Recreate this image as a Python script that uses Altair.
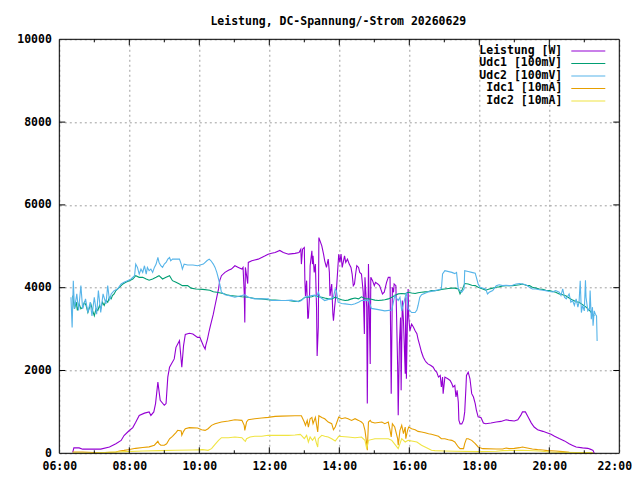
import altair as alt
import pandas as pd

TITLE = "Leistung, DC-Spannung/-Strom 20260629"
SERIES = ["Leistung [W]", "Udc1 [100mV]", "Udc2 [100mV]", "Idc1 [10mA]", "Idc2 [10mA]"]
COLORS = ["#9400d3", "#009e73", "#56b4e9", "#e69f00", "#f0e442"]

LEISTUNG = [
    ("06:23", 20), ("06:25", 130), ("06:34", 130), ("06:40", 100), ("07:11", 100), ("07:26", 150),
    ("07:37", 230), ("07:46", 310), ("07:51", 430), ("08:00", 550), ("08:06", 620), ("08:11", 750),
    ("08:17", 915), ("08:26", 970), ("08:34", 1000), ("08:37", 915), ("08:42", 1000), ("08:45", 1200),
    ("08:49", 1720), ("08:53", 1280), ("09:00", 1160), ("09:03", 1200), ("09:06", 1840), ("09:09", 2080),
    ("09:17", 2280), ("09:20", 2560), ("09:23", 2640), ("09:26", 2720), ("09:30", 2080), ("09:33", 2600),
    ("09:36", 2870), ("09:43", 2900), ("09:49", 2880), ("09:57", 2800), ("10:01", 2800), ("10:07", 2600),
    ("10:10", 2520), ("10:11", 2600), ("10:14", 2760), ("10:17", 2960), ("10:19", 3080), ("10:24", 3360),
    ("10:27", 3570), ("10:30", 3770), ("10:33", 3970), ("10:35", 4170), ("10:38", 4290), ("10:44", 4370),
    ("10:50", 4420), ("10:55", 4450), ("11:01", 4530), ("11:07", 4490), ("11:13", 4450), ("11:15", 4490),
    ("11:17", 3890), ("11:18", 3160), ("11:19", 4490), ("11:23", 4100), ("11:24", 4610), ("11:30", 4650),
    ("11:35", 4670), ("11:41", 4690), ("11:47", 4730), ("11:53", 4770), ("11:58", 4810), ("12:04", 4830),
    ("12:10", 4850), ("12:18", 4900), ("12:24", 4850), ("12:33", 4810), ("12:44", 4830), ("12:51", 4850),
    ("12:54", 4930), ("12:55", 4570), ("12:57", 4930), ("13:00", 4970), ("13:01", 4170), ("13:02", 3800),
    ("13:04", 4170), ("13:06", 3250), ("13:07", 3280), ("13:09", 3800), ("13:10", 4530), ("13:13", 4890),
    ("13:14", 4570), ("13:15", 4770), ("13:17", 4370), ("13:19", 4570), ("13:21", 3520), ("13:22", 2350),
    ("13:24", 3050), ("13:25", 5210), ("13:27", 5130), ("13:30", 5010), ("13:33", 4810), ("13:35", 4650),
    ("13:38", 4490), ("13:41", 4690), ("13:43", 4370), ("13:44", 3800), ("13:47", 4090), ("13:49", 3360),
    ("13:50", 3200), ("13:52", 3530), ("13:55", 3930), ("13:59", 4810), ("14:01", 4610), ("14:03", 4810),
    ("14:05", 4490), ("14:09", 4770), ("14:11", 4610), ("14:14", 4690), ("14:17", 4570), ("14:20", 4490),
    ("14:22", 4330), ("14:24", 4050), ("14:26", 4090), ("14:28", 4330), ("14:30", 4530), ("14:33", 4490),
    ("14:35", 4370), ("14:38", 4330), ("14:41", 3890), ("14:43", 2880), ("14:44", 4250), ("14:47", 3520),
    ("14:48", 1200), ("14:50", 4570), ("14:51", 3770), ("14:53", 2160), ("14:54", 4250), ("14:57", 4170),
    ("15:00", 4050), ("15:02", 4130), ("15:06", 4090), ("15:09", 4050), ("15:11", 3970), ("15:14", 3850),
    ("15:17", 3890), ("15:19", 4010), ("15:21", 4130), ("15:24", 4250), ("15:27", 4250), ("15:29", 1440),
    ("15:31", 4010), ("15:33", 3890), ("15:34", 4090), ("15:37", 4050), ("15:38", 3440), ("15:40", 2120),
    ("15:41", 920), ("15:43", 2640), ("15:45", 3280), ("15:46", 1520), ("15:48", 3690), ("15:50", 3200),
    ("15:53", 1920), ("15:54", 3770), ("15:55", 1800), ("15:57", 3360), ("15:58", 3970), ("15:59", 3290),
    ("16:01", 2960), ("16:04", 3120), ("16:07", 3050), ("16:10", 2960), ("16:13", 2890), ("16:15", 2760),
    ("16:18", 2600), ("16:21", 2440), ("16:24", 2320), ("16:27", 2240), ("16:29", 2200), ("16:32", 2160),
    ("16:37", 2120), ("16:41", 2080), ("16:44", 2000), ("16:47", 1960), ("16:50", 1840), ("16:53", 1880),
    ("16:55", 1600), ("16:57", 1840), ("16:58", 1440), ("17:01", 1840), ("17:06", 1800), ("17:10", 1760),
    ("17:13", 1680), ("17:15", 1600), ("17:18", 1640), ("17:20", 1360), ("17:22", 1520), ("17:24", 1240),
    ("17:25", 800), ("17:27", 710), ("17:30", 710), ("17:33", 800), ("17:35", 1000), ("17:37", 1560),
    ("17:38", 1880), ("17:41", 1960), ("17:44", 1800), ("17:47", 1440), ("17:50", 1360), ("17:53", 1200),
    ("17:55", 1040), ("17:58", 880), ("18:03", 860), ("18:07", 730), ("18:11", 715), ("18:20", 730),
    ("18:29", 755), ("18:37", 770), ("18:46", 810), ("18:51", 795), ("19:00", 780), ("19:06", 810),
    ("19:11", 915), ("19:14", 1000), ("19:19", 1000), ("19:23", 895), ("19:29", 735), ("19:34", 635),
    ("19:40", 570), ("19:49", 530), ("19:57", 490), ("20:03", 460), ("20:09", 410), ("20:17", 355),
    ("20:26", 300), ("20:34", 230), ("20:40", 190), ("20:46", 150), ("20:57", 130), ("21:06", 120),
    ("21:11", 95), ("21:15", 70), ("21:17", 0),
]

UDC1 = [
    ("06:23", 3810), ("06:26", 3490), ("06:29", 3650), ("06:31", 3450), ("06:34", 3610), ("06:37", 3490),
    ("06:40", 3530), ("06:43", 3650), ("06:46", 3570), ("06:49", 3400), ("06:51", 3490), ("06:54", 3610),
    ("06:57", 3450), ("07:00", 3320), ("07:03", 3490), ("07:06", 3450), ("07:09", 3570), ("07:11", 3490),
    ("07:14", 3650), ("07:17", 3570), ("07:20", 3690), ("07:23", 3650), ("07:26", 3770), ("07:29", 3730),
    ("07:31", 3810), ("07:34", 3850), ("07:37", 3930), ("07:43", 4010), ("07:49", 4090), ("07:54", 4130),
    ("08:00", 4170), ("08:06", 4210), ("08:11", 4290), ("08:17", 4250), ("08:23", 4250), ("08:29", 4210),
    ("08:34", 4180), ("08:40", 4210), ("08:46", 4250), ("08:51", 4290), ("08:57", 4210), ("09:03", 4250),
    ("09:09", 4290), ("09:14", 4170), ("09:20", 4130), ("09:26", 4090), ("09:31", 4050), ("09:40", 4050),
    ("09:46", 3990), ("09:54", 3970), ("10:06", 3960), ("10:18", 3940), ("10:24", 3900), ("10:30", 3890),
    ("10:41", 3860), ("10:47", 3830), ("10:53", 3810), ("11:01", 3800), ("11:13", 3780), ("11:24", 3770),
    ("11:35", 3740), ("11:47", 3730), ("11:58", 3710), ("12:10", 3700), ("12:21", 3690), ("12:33", 3690),
    ("12:44", 3670), ("12:50", 3670), ("12:55", 3700), ("13:01", 3770), ("13:07", 3770), ("13:13", 3780),
    ("13:18", 3810), ("13:24", 3780), ("13:30", 3770), ("13:35", 3750), ("13:41", 3730), ("13:47", 3730),
    ("13:53", 3770), ("13:58", 3740), ("14:04", 3710), ("14:10", 3690), ("14:15", 3700), ("14:21", 3730),
    ("14:27", 3750), ("14:33", 3730), ("14:38", 3780), ("14:44", 3740), ("14:50", 3730), ("14:55", 3720),
    ("15:01", 3700), ("15:07", 3690), ("15:13", 3700), ("15:18", 3710), ("15:24", 3730), ("15:30", 3770),
    ("15:35", 3810), ("15:41", 3850), ("15:47", 3860), ("15:53", 3850), ("15:58", 3890), ("16:04", 3870),
    ("16:10", 3860), ("16:15", 3880), ("16:21", 3890), ("16:27", 3900), ("16:33", 3910), ("16:38", 3930),
    ("16:44", 3930), ("16:50", 3940), ("16:55", 3960), ("17:01", 3970), ("17:07", 3980), ("17:13", 3990),
    ("17:18", 3990), ("17:24", 3970), ("17:27", 3850), ("17:30", 3930), ("17:35", 4100), ("17:41", 4090),
    ("17:47", 4060), ("17:53", 4050), ("17:58", 4010), ("18:06", 3970), ("18:11", 3940), ("18:17", 3970),
    ("18:23", 3990), ("18:29", 4010), ("18:34", 4020), ("18:40", 4040), ("18:46", 4050), ("18:51", 4050),
    ("18:57", 4050), ("19:03", 4060), ("19:09", 4070), ("19:14", 4090), ("19:20", 4060), ("19:26", 4050),
    ("19:31", 4010), ("19:37", 3990), ("19:43", 3970), ("19:49", 3960), ("19:54", 3940), ("20:00", 3930),
    ("20:06", 3910), ("20:11", 3890), ("20:17", 3850), ("20:23", 3830), ("20:29", 3800), ("20:34", 3750),
    ("20:40", 3700), ("20:46", 3660), ("20:51", 3650), ("20:57", 3590), ("21:03", 3530), ("21:09", 3450),
    ("21:14", 3360), ("21:17", 3320),
]

UDC2 = [
    ("06:20", 3770), ("06:22", 3040), ("06:24", 4170), ("06:26", 3490), ("06:30", 3850), ("06:33", 3450),
    ("06:37", 4050), ("06:40", 3490), ("06:45", 3730), ("06:49", 3400), ("06:53", 3650), ("06:56", 3320),
    ("07:00", 3770), ("07:04", 3360), ("07:07", 3930), ("07:11", 3400), ("07:15", 3850), ("07:20", 3610),
    ("07:23", 4050), ("07:26", 3690), ("07:29", 3850), ("07:34", 3930), ("07:40", 3970), ("07:46", 4090),
    ("07:51", 4130), ("07:57", 4170), ("08:03", 4210), ("08:09", 4290), ("08:11", 4570), ("08:14", 4490),
    ("08:17", 4330), ("08:20", 4450), ("08:23", 4370), ("08:26", 4530), ("08:29", 4330), ("08:31", 4490),
    ("08:34", 4410), ("08:37", 4450), ("08:40", 4370), ("08:43", 4490), ("08:46", 4570), ("08:49", 4730),
    ("08:51", 4610), ("08:54", 4530), ("08:57", 4490), ("09:00", 4570), ("09:03", 4610), ("09:06", 4690),
    ("09:09", 4730), ("09:11", 4650), ("09:14", 4690), ("09:20", 4690), ("09:26", 4690), ("09:29", 4570),
    ("09:31", 4450), ("09:34", 4570), ("09:40", 4550), ("09:49", 4550), ("09:57", 4530), ("10:07", 4570),
    ("10:13", 4650), ("10:17", 4690), ("10:20", 4650), ("10:24", 4570), ("10:27", 4490), ("10:30", 4370),
    ("10:33", 4210), ("10:35", 4090), ("10:38", 3890), ("10:44", 3830), ("10:50", 3810), ("11:01", 3770),
    ("11:13", 3810), ("11:18", 3830), ("11:24", 3770), ("11:35", 3730), ("11:47", 3730), ("11:58", 3730),
    ("12:04", 3690), ("12:15", 3690), ("12:27", 3690), ("12:38", 3700), ("12:50", 3660), ("12:55", 3690),
    ("13:01", 3770), ("13:07", 3790), ("13:13", 3810), ("13:18", 3820), ("13:21", 3770), ("13:24", 3890),
    ("13:27", 3770), ("13:35", 3690), ("13:44", 3730), ("13:50", 3770), ("13:53", 3970), ("13:55", 3930),
    ("13:58", 3650), ("14:04", 3620), ("14:10", 3610), ("14:21", 3590), ("14:27", 3610), ("14:33", 3650),
    ("14:38", 3690), ("14:50", 3700), ("14:55", 3500), ("15:07", 3470), ("15:18", 3440), ("15:30", 3460),
    ("15:35", 3810), ("15:41", 3690), ("15:44", 3770), ("15:47", 3440), ("15:53", 3770), ("15:55", 3890),
    ("15:58", 3490), ("16:04", 3400), ("16:10", 3400), ("16:13", 3460), ("16:15", 3570), ("16:18", 3770),
    ("16:21", 3830), ("16:33", 3900), ("16:44", 3930), ("16:55", 3970), ("16:57", 4330), ("17:01", 4410),
    ("17:13", 4370), ("17:18", 4340), ("17:21", 4370), ("17:24", 3970), ("17:30", 3890), ("17:34", 3970),
    ("17:35", 4410), ("17:41", 4390), ("17:47", 4370), ("17:53", 4350), ("17:55", 4250), ("17:58", 4090),
    ("18:01", 4010), ("18:11", 3970), ("18:14", 3850), ("18:17", 3890), ("18:23", 3930), ("18:29", 4050),
    ("18:34", 4070), ("18:40", 4050), ("18:46", 4060), ("18:51", 4050), ("18:57", 4060), ("19:03", 4090),
    ("19:09", 4100), ("19:14", 4090), ("19:20", 4070), ("19:26", 4010), ("19:31", 3970), ("19:37", 3970),
    ("19:43", 3950), ("19:49", 3940), ("19:54", 3930), ("20:00", 3910), ("20:06", 3900), ("20:11", 3930),
    ("20:17", 3890), ("20:20", 3810), ("20:23", 3970), ("20:26", 3770), ("20:29", 3730), ("20:34", 3850),
    ("20:37", 3650), ("20:40", 3690), ("20:43", 3570), ("20:46", 3730), ("20:49", 3530), ("20:51", 3650),
    ("20:53", 4170), ("20:55", 3400), ("20:57", 3570), ("21:00", 3440), ("21:02", 4180), ("21:03", 3770),
    ("21:06", 3440), ("21:09", 3490), ("21:10", 3930), ("21:12", 3240), ("21:14", 3530), ("21:15", 3080),
    ("21:17", 3440), ("21:19", 3360), ("21:21", 3320), ("21:22", 2710),
]

IDC1 = [
    ("06:23", 30), ("06:40", 30), ("07:09", 15), ("07:37", 30), ("07:43", 55), ("07:51", 70),
    ("08:00", 90), ("08:11", 120), ("08:23", 140), ("08:34", 155), ("08:43", 195), ("08:49", 290),
    ("08:51", 230), ("08:54", 195), ("09:00", 195), ("09:04", 230), ("09:09", 350), ("09:14", 410),
    ("09:20", 500), ("09:23", 555), ("09:29", 540), ("09:30", 435), ("09:33", 530), ("09:36", 595),
    ("09:43", 620), ("09:57", 610), ("10:04", 570), ("10:10", 554), ("10:15", 594), ("10:21", 675),
    ("10:27", 715), ("10:38", 755), ("10:50", 780), ("11:01", 811), ("11:13", 795), ("11:17", 675),
    ("11:18", 554), ("11:21", 755), ("11:24", 811), ("11:35", 835), ("11:47", 851), ("11:58", 867),
    ("12:10", 891), ("12:21", 899), ("12:44", 907), ("12:55", 907), ("13:00", 755), ("13:02", 675),
    ("13:05", 795), ("13:07", 634), ("13:10", 835), ("13:13", 867), ("13:15", 715), ("13:19", 867),
    ("13:23", 514), ("13:25", 907), ("13:30", 867), ("13:35", 835), ("13:41", 755), ("13:47", 715),
    ("13:50", 570), ("13:53", 634), ("13:55", 715), ("13:59", 875), ("14:04", 835), ("14:10", 859),
    ("14:15", 835), ("14:21", 795), ("14:27", 835), ("14:33", 795), ("14:38", 755), ("14:41", 715),
    ("14:44", 554), ("14:47", 234), ("14:48", 72), ("14:50", 755), ("14:53", 795), ("14:55", 755),
    ("15:01", 731), ("15:13", 755), ("15:18", 715), ("15:24", 755), ("15:27", 554), ("15:29", 394),
    ("15:31", 715), ("15:35", 634), ("15:40", 353), ("15:41", 193), ("15:44", 554), ("15:47", 675),
    ("15:50", 474), ("15:53", 634), ("15:54", 353), ("15:57", 554), ("15:59", 634), ("16:04", 594),
    ("16:10", 570), ("16:15", 530), ("16:21", 514), ("16:27", 498), ("16:33", 474), ("16:38", 458),
    ("16:44", 434), ("16:50", 410), ("16:55", 353), ("17:01", 353), ("17:07", 329), ("17:13", 313),
    ("17:18", 273), ("17:24", 153), ("17:27", 112), ("17:33", 112), ("17:35", 234), ("17:38", 353),
    ("17:41", 353), ("17:47", 313), ("17:53", 234), ("17:58", 153), ("18:06", 112), ("18:29", 104),
    ("18:40", 104), ("18:46", 128), ("18:51", 112), ("19:00", 120), ("19:09", 136), ("19:14", 153),
    ("19:20", 136), ("19:31", 104), ("19:40", 88), ("19:49", 80), ("19:57", 64), ("20:11", 56),
    ("20:23", 40), ("20:34", 24), ("20:46", 16), ("21:15", 8),
]

IDC2 = [
    ("06:23", 8), ("06:57", 8), ("07:26", 24), ("07:54", 40), ("08:23", 56), ("08:51", 64),
    ("09:20", 72), ("09:49", 80), ("10:06", 88), ("10:15", 72), ("10:21", 112), ("10:27", 217),
    ("10:33", 313), ("10:38", 377), ("10:50", 377), ("11:01", 394), ("11:13", 377), ("11:17", 313),
    ("11:19", 289), ("11:21", 353), ("11:27", 394), ("11:35", 410), ("11:47", 410), ("11:58", 434),
    ("12:15", 434), ("12:33", 434), ("12:44", 442), ("12:53", 458), ("12:55", 434), ("13:00", 353),
    ("13:04", 434), ("13:07", 273), ("13:10", 394), ("13:14", 313), ("13:18", 394), ("13:21", 234),
    ("13:23", 153), ("13:24", 353), ("13:30", 434), ("13:35", 410), ("13:41", 394), ("13:47", 353),
    ("13:53", 297), ("13:59", 410), ("14:15", 394), ("14:27", 377), ("14:38", 394), ("14:44", 313),
    ("14:47", 112), ("14:50", 313), ("15:01", 353), ("15:24", 353), ("15:30", 313), ("15:41", 112),
    ("15:47", 353), ("15:53", 273), ("15:58", 313), ("16:04", 297), ("16:13", 273), ("16:21", 193),
    ("16:27", 153), ("16:33", 112), ("16:38", 72), ("16:44", 64), ("17:01", 56), ("17:18", 48),
    ("17:58", 40), ("18:29", 48), ("18:40", 64), ("19:14", 72), ("19:43", 56), ("20:00", 32),
    ("20:46", 16), ("21:14", 16),
]

X_MAJOR = [6, 8, 10, 12, 14, 16, 18, 20, 22]
X_MINOR = [7, 9, 11, 13, 15, 17, 19, 21]
Y_MAJOR = [0, 2000, 4000, 6000, 8000, 10000]

W, H = 560, 414
FONT = "DejaVu Sans Mono"
GRID = "#a0a0a0"


def to_frame(rows):
    df = pd.DataFrame(rows, columns=["t", "v"])
    df["h"] = df["t"].map(lambda s: int(s[:2]) + int(s[3:]) / 60)
    return df


x_scale = alt.Scale(domain=[6, 22], nice=False, zero=False)
y_scale = alt.Scale(domain=[0, 10000], nice=False)

x_axis = alt.Axis(
    values=X_MAJOR, labelExpr="(datum.value < 10 ? '0' : '') + datum.value + ':00'",
    grid=True, gridColor=GRID, gridDash=[2, 3], ticks=False, domain=False,
    labelFont=FONT, labelFontSize=11.5, labelFontWeight="bold", labelColor="black",
    labelPadding=7, labelFlush=False, labelOverlap=False, title=None,
    # last label nudged in so it is not clipped at the page edge
    labelOffset={"condition": {"test": "datum.value == 22", "value": -5}, "value": 0},
)
y_axis = alt.Axis(
    values=Y_MAJOR, format="d",
    grid=True, gridColor=GRID, gridDash=[2, 3], ticks=False, domain=False,
    labelFont=FONT, labelFontSize=11.5, labelFontWeight="bold", labelColor="black",
    labelPadding=8, title=None,
)


def xenc(field="h"):
    return alt.X(f"{field}:Q", scale=x_scale, axis=x_axis)


def yenc(field="v"):
    return alt.Y(f"{field}:Q", scale=y_scale, axis=y_axis)


layers = []
for rows, color in zip([LEISTUNG, UDC1, UDC2, IDC1, IDC2], COLORS):
    layers.append(
        alt.Chart(to_frame(rows))
        .mark_line(color=color, strokeWidth=1.1)
        .encode(x=xenc(), y=yenc())
    )

# inward ticks like gnuplot, on all four sides
xt = pd.DataFrame({"h": X_MAJOR[1:-1] + X_MINOR, "len": [6] * 7 + [3] * 8})
for y0, sign in [(H, -1), (0, 1)]:
    for n in (6, 3):
        layers.append(
            alt.Chart(xt[xt["len"] == n])
            .mark_rule(color="black", strokeWidth=1)
            .encode(x=xenc(), y=alt.value(y0), y2=alt.value(y0 + sign * n))
        )
yt = pd.DataFrame({"v": Y_MAJOR[1:-1]})
for x0, x1 in [(0, 6), (W - 6, W)]:
    layers.append(
        alt.Chart(yt)
        .mark_rule(color="black", strokeWidth=1)
        .encode(y=yenc(), x=alt.value(x0), x2=alt.value(x1))
    )

# border box on top
one = pd.DataFrame({"a": [0]})
layers.append(
    alt.Chart(one)
    .mark_rect(fill="white", fillOpacity=0, stroke="black", strokeWidth=1)
    .encode(x=alt.value(0), x2=alt.value(W), y=alt.value(0), y2=alt.value(H))
)

# title, placed like gnuplot's
layers.append(
    alt.Chart(one)
    .mark_text(text=TITLE, align="center", baseline="alphabetic", font=FONT, fontSize=11.5,
               fontWeight="bold", color="black")
    .encode(x=alt.value(W / 2 - 1), y=alt.value(-14))
)

# gnuplot-style key: right-aligned text, sample line on the right
for i, (name, color) in enumerate(zip(SERIES, COLORS)):
    ky = 11.7 + 12.5 * i
    layers.append(
        alt.Chart(one)
        .mark_text(text=name, align="right", baseline="middle", font=FONT, fontSize=11.5,
                   fontWeight="bold", color="black")
        .encode(x=alt.value(503), y=alt.value(ky))
    )
    layers.append(
        alt.Chart(one)
        .mark_rule(color=color, strokeWidth=1.1)
        .encode(x=alt.value(512), x2=alt.value(546), y=alt.value(ky))
    )

chart = (
    alt.layer(*layers)
    .properties(
        width=W,
        height=H,
        padding={"left": 51.3, "top": 31.3, "right": 12.5, "bottom": 19},
        autosize=alt.AutoSizeParams(type="none"),
    )
    .configure_view(stroke="transparent")
    .configure(background="white")
)

chart.save("out.html", embed_options={"renderer": "svg", "actions": False})
